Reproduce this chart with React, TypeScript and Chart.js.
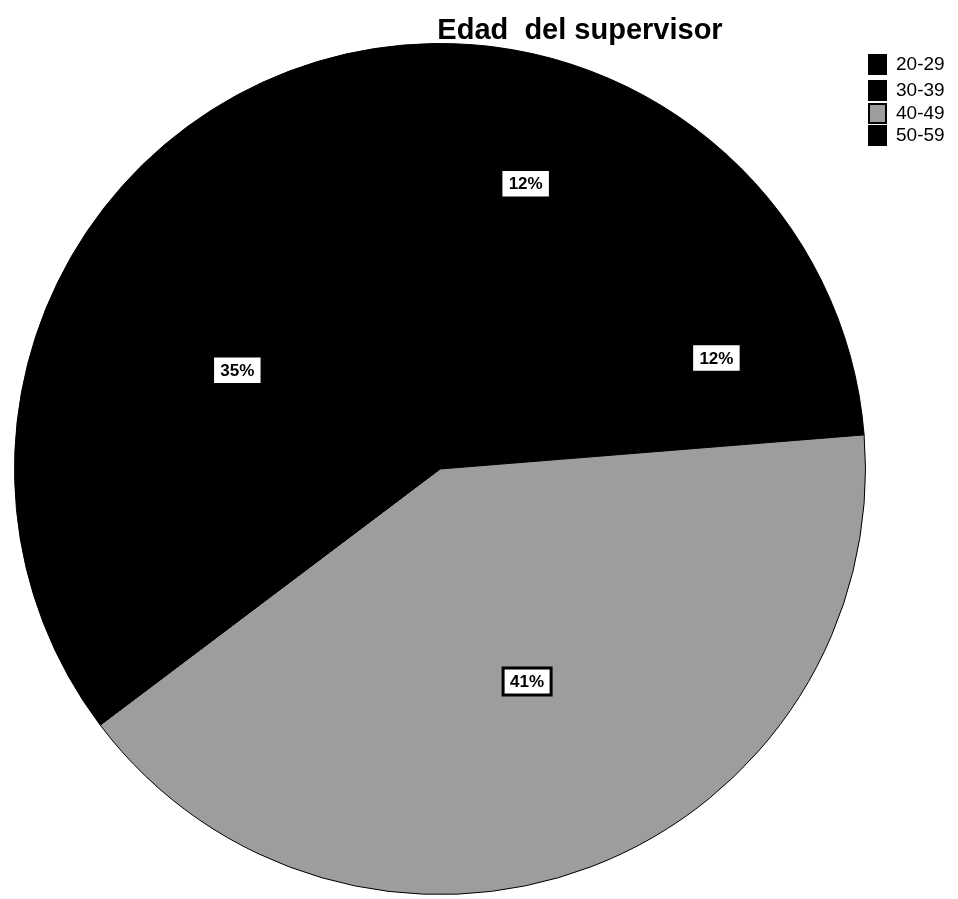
import React, { useEffect, useRef } from "react";
import { Chart, registerables } from "chart.js";

Chart.register(...registerables);

const categories = ["20-29", "30-39", "40-49", "50-59"];
const percents = [12, 12, 41, 35];
const sliceColors = ["#000000", "#000000", "#9d9d9d", "#000000"];
const labelRadiusFactor = [0.7, 0.7, 0.54, 0.53];
const labelAngleFraction = [0.41, 0.6, 0.49, 0.5];
const titleText = "Edad  del supervisor";

const underlayPlugin = {
  id: "underlay",
  beforeDatasetsDraw(chart: any) {
    const meta = chart.getDatasetMeta(0);
    const arc = meta.data[0];
    if (!arc) return;
    const { x, y, outerRadius } = arc.getProps(["x", "y", "outerRadius"], true);
    const ctx = chart.ctx;
    ctx.save();
    ctx.fillStyle = "#000000";
    ctx.beginPath();
    ctx.arc(x, y, outerRadius - 0.5, 0, Math.PI * 2);
    ctx.fill();
    ctx.restore();
  },
};

const overlayPlugin = {
  id: "overlay",
  afterDraw(chart: any) {
    const ctx = chart.ctx;
    const meta = chart.getDatasetMeta(0);
    ctx.save();
    meta.data.forEach((arc: any, i: number) => {
      const { x, y, startAngle, endAngle, outerRadius } = arc.getProps(
        ["x", "y", "startAngle", "endAngle", "outerRadius"],
        true
      );
      const ang = startAngle + (endAngle - startAngle) * labelAngleFraction[i];
      const r = outerRadius * labelRadiusFactor[i];
      const lx = x + Math.cos(ang) * r;
      const ly = y + Math.sin(ang) * r;
      const txt = percents[i] + "%";
      ctx.font = "bold 17px 'Liberation Sans', Arial, sans-serif";
      const w = 48;
      const h = 27;
      ctx.fillStyle = "#ffffff";
      ctx.strokeStyle = "#000000";
      ctx.lineWidth = i === 2 ? 3 : 1.5;
      ctx.beginPath();
      ctx.rect(lx - w / 2, ly - h / 2, w, h);
      ctx.fill();
      ctx.stroke();
      ctx.fillStyle = "#000000";
      ctx.textAlign = "center";
      ctx.textBaseline = "middle";
      ctx.fillText(txt, lx, ly + 1);
    });
    ctx.font = "bold 29px 'Liberation Sans', Arial, sans-serif";
    ctx.fillStyle = "#000000";
    ctx.textAlign = "center";
    ctx.textBaseline = "alphabetic";
    ctx.fillText(titleText, 580, 39);
    const rowY = [64, 90, 113, 135];
    categories.forEach((c, i) => {
      const cy = rowY[i];
      ctx.fillStyle = sliceColors[i];
      ctx.fillRect(869, cy - 9, 17, 19);
      ctx.strokeStyle = "#000000";
      ctx.lineWidth = 2;
      ctx.strokeRect(869, cy - 9, 17, 19);
      ctx.fillStyle = "#000000";
      ctx.font = "19px 'Liberation Sans', Arial, sans-serif";
      ctx.textAlign = "left";
      ctx.textBaseline = "middle";
      ctx.fillText(c, 896, cy + 1);
    });
    ctx.restore();
  },
};

export default function App() {
  const ref = useRef<HTMLCanvasElement>(null);
  useEffect(() => {
    document.body.style.margin = "0";
    const chart = new Chart(ref.current!, {
      type: "pie",
      data: {
        labels: categories,
        datasets: [
          {
            data: percents,
            backgroundColor: sliceColors,
            borderColor: "#000000",
            borderWidth: 1,
          },
        ],
      },
      options: {
        responsive: false,
        animation: false,
        rotation: -1,
        layout: { padding: { left: 14, top: 43, right: 92, bottom: 4 } },
        plugins: {
          legend: { display: false },
          title: { display: false },
          tooltip: { enabled: false },
        },
      },
      plugins: [underlayPlugin, overlayPlugin],
    });
    return () => chart.destroy();
  }, []);
  return (
    <div style={{ width: 958, height: 899, background: "#fff" }}>
      <canvas ref={ref} width={958} height={899} style={{ display: "block" }} />
    </div>
  );
}
